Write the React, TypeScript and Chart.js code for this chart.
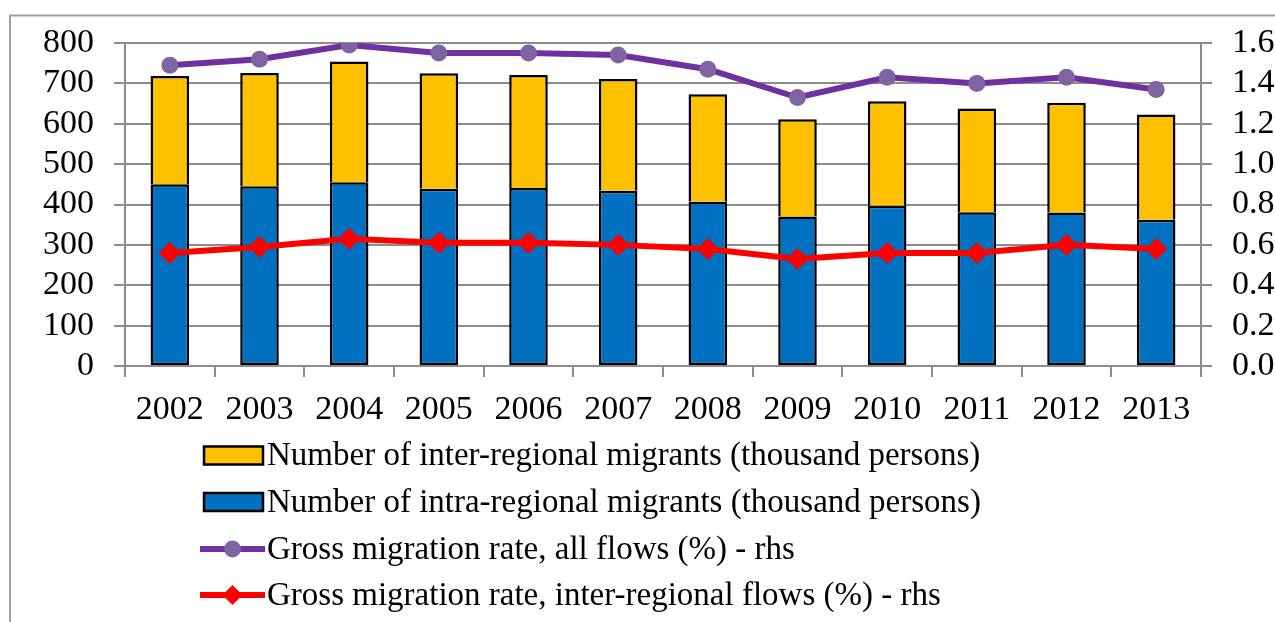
import React, { useEffect, useRef } from "react";
import { Chart, registerables } from "chart.js";

Chart.register(...registerables);

const years = ["2002", "2003", "2004", "2005", "2006", "2007", "2008", "2009", "2010", "2011", "2012", "2013"];
const intraRegional = [450, 445, 455, 439, 441, 434, 407, 370, 397, 381, 380, 362];
const interRegional = [268, 281, 299, 286, 280, 277, 266, 241, 259, 257, 272, 261];
const rateAllFlows = [1.49, 1.52, 1.59, 1.55, 1.55, 1.54, 1.47, 1.33, 1.43, 1.40, 1.43, 1.37];
const rateInterFlows = [0.56, 0.59, 0.63, 0.61, 0.61, 0.60, 0.58, 0.53, 0.56, 0.56, 0.60, 0.58];

const leftAxisMax = 800;
const leftAxisStep = 100;
const rightAxisMax = 1.6;
const rightAxisStep = 0.2;

const labelInter = "Number of inter-regional migrants (thousand persons)";
const labelIntra = "Number of intra-regional migrants (thousand persons)";
const labelAll = "Gross migration rate, all flows (%) - rhs";
const labelInterFlows = "Gross migration rate, inter-regional flows (%) - rhs";

const FONT = "'Liberation Serif', 'Times New Roman', serif";
const GRID = "#8c8c8c";

const framePlugin = {
  id: "frame",
  beforeDraw(chart: any) {
    const ctx = chart.ctx;
    ctx.save();
    ctx.fillStyle = "#ffffff";
    ctx.fillRect(0, 0, chart.width, chart.height);
    ctx.strokeStyle = "#a0a0a0";
    ctx.lineWidth = 2;
    ctx.strokeRect(10, 15.5, chart.width + 100, chart.height + 100);
    ctx.restore();
  },
};

const legendPlugin = {
  id: "customLegend",
  afterDraw(chart: any) {
    const ctx = chart.ctx;
    const order = [1, 0, 2, 3];
    const rowY = [455.5, 502, 549, 595];
    ctx.save();
    ctx.font = `33px ${FONT}`;
    ctx.textBaseline = "middle";
    ctx.textAlign = "left";
    order.forEach((di, i) => {
      const ds = chart.data.datasets[di];
      const y = rowY[i];
      if (ds.type === "bar") {
        ctx.fillStyle = ds.backgroundColor;
        ctx.fillRect(204, y - 9, 59, 18);
        ctx.strokeStyle = "#000";
        ctx.lineWidth = 2.5;
        ctx.strokeRect(204, y - 9, 59, 18);
      } else {
        ctx.strokeStyle = ds.borderColor;
        ctx.lineWidth = 6;
        ctx.beginPath();
        ctx.moveTo(200, y);
        ctx.lineTo(265, y);
        ctx.stroke();
        ctx.fillStyle = ds.pointBackgroundColor;
        ctx.beginPath();
        if (ds.pointStyle === "rectRot") {
          const r = 10;
          ctx.moveTo(232.5, y - r);
          ctx.lineTo(232.5 + r, y);
          ctx.lineTo(232.5, y + r);
          ctx.lineTo(232.5 - r, y);
          ctx.closePath();
        } else {
          ctx.arc(232.5, y, 8.5, 0, Math.PI * 2);
        }
        ctx.fill();
      }
      ctx.fillStyle = "#000";
      ctx.fillText(ds.label, 267, y + 1);
    });
    ctx.restore();
  },
};

export default function App() {
  const ref = useRef<HTMLCanvasElement | null>(null);
  useEffect(() => {
    if (!ref.current) return;
    const chart = new Chart(ref.current, {
      type: "bar",
      data: {
        labels: years,
        datasets: [
          {
            type: "bar",
            label: labelIntra,
            data: intraRegional,
            backgroundColor: "#0070C0",
            borderColor: "#000000",
            borderWidth: 2.5,
            borderSkipped: false,
            yAxisID: "y",
            stack: "m",
            order: 2,
            barPercentage: 0.43,
            categoryPercentage: 1,
          },
          {
            type: "bar",
            label: labelInter,
            data: interRegional,
            backgroundColor: "#FFC000",
            borderColor: "#000000",
            borderWidth: 2.5,
            borderSkipped: "start",
            yAxisID: "y",
            stack: "m",
            order: 2,
            barPercentage: 0.43,
            categoryPercentage: 1,
          },
          {
            type: "line",
            label: labelAll,
            data: rateAllFlows,
            borderColor: "#7030A0",
            backgroundColor: "#8064A2",
            pointBackgroundColor: "#8064A2",
            pointBorderColor: "#8064A2",
            pointBorderWidth: 0,
            pointRadius: 8.5,
            pointStyle: "circle",
            borderWidth: 6,
            tension: 0,
            yAxisID: "y1",
            order: 1,
          },
          {
            type: "line",
            label: labelInterFlows,
            data: rateInterFlows,
            borderColor: "#FF0000",
            backgroundColor: "#FF0000",
            pointBackgroundColor: "#FF0000",
            pointBorderColor: "#FF0000",
            pointBorderWidth: 0,
            pointRadius: 11,
            pointStyle: "rectRot",
            borderWidth: 6,
            tension: 0,
            yAxisID: "y1",
            order: 0,
          },
        ] as any,
      },
      options: {
        responsive: false,
        animation: false,
        devicePixelRatio: 1,
        layout: { padding: { top: 43, bottom: 186, left: 0, right: 0 } },
        plugins: {
          legend: { display: false },
          tooltip: { enabled: false },
          title: { display: false },
        },
        scales: {
          x: {
            stacked: true,
            offset: true,
            grid: {
              display: true,
              offset: true,
              drawOnChartArea: false,
              drawTicks: true,
              tickLength: 11,
              color: GRID,
              lineWidth: 2,
            },
            border: { display: true, color: GRID, width: 2 },
            ticks: { color: "#000", font: { family: FONT, size: 34 }, padding: 13, maxRotation: 0, autoSkip: false },
            afterFit(scale: any) {
              scale.height = 70;
            },
          },
          y: {
            stacked: true,
            position: "left",
            min: 0,
            max: leftAxisMax,
            grid: { color: GRID, lineWidth: 2, tickLength: 11, drawTicks: true },
            border: { display: true, color: GRID, width: 2 },
            ticks: { stepSize: leftAxisStep, autoSkip: false, color: "#000", font: { family: FONT, size: 34 }, padding: 20 },
            afterFit(scale: any) {
              scale.width = 125;
            },
          },
          y1: {
            position: "right",
            min: 0,
            max: rightAxisMax,
            grid: { drawOnChartArea: false, color: GRID, lineWidth: 2, tickLength: 11, drawTicks: true },
            border: { display: true, color: GRID, width: 2 },
            ticks: {
              stepSize: rightAxisStep,
              autoSkip: false,
              color: "#000",
              font: { family: FONT, size: 34 },
              padding: 20,
              callback: (v: any) => Number(v).toFixed(1),
            },
            afterFit(scale: any) {
              scale.width = 74;
            },
          },
        },
      } as any,
      plugins: [framePlugin, legendPlugin],
    });
    return () => chart.destroy();
  }, []);
  return (
    <div style={{ position: "fixed", left: 0, top: 0, width: 1275, height: 622, overflow: "hidden", background: "#fff" }}>
      <canvas ref={ref} width={1275} height={622} style={{ width: 1275, height: 622, display: "block" }} />
    </div>
  );
}
